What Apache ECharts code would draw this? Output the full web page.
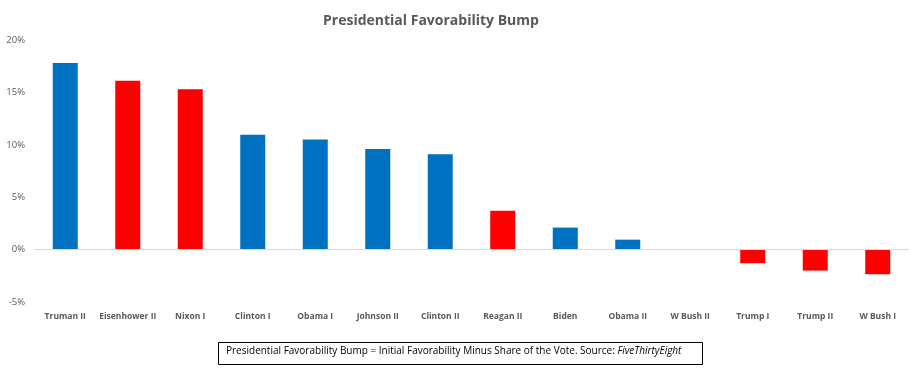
<!DOCTYPE html>
<html><head><meta charset="utf-8">
<script src="https://cdn.jsdelivr.net/npm/echarts@6/dist/echarts.min.js"></script>
<style>html,body{margin:0;padding:0;background:#fff}#c{width:910px;height:373px}</style>
</head><body><div id="c"></div>
<script>
const categories = ["Truman II","Eisenhower II","Nixon I","Clinton I","Obama I","Johnson II","Clinton II","Reagan II","Biden","Obama II","W Bush II","Trump I","Trump II","W Bush I"];
const bumpValues = [17.8,16.1,15.3,10.95,10.5,9.6,9.1,3.7,2.1,0.95,0,-1.3,-2.0,-2.35];
const party = ["D","R","R","D","D","D","D","R","D","D","R","R","R","R"];
const yTicks = [-5,0,5,10,15,20];
const titleText = "Presidential Favorability Bump";
const noteText = "Presidential Favorability Bump = Initial Favorability Minus Share of the Vote. Source: ";
const noteSource = "FiveThirtyEight";

const colors = {D:"#0070C0", R:"#FF0000"};
const font = "'Open Sans',sans-serif";
const chart = echarts.init(document.getElementById('c'));
chart.setOption({
  animation:false,
  title:{text:titleText,left:318,top:9,textStyle:{fontFamily:font,fontSize:14,fontWeight:'bold',color:'#595959'}},
  grid:{left:34,right:1,top:40,bottom:71},
  xAxis:{type:'category',data:categories,axisLine:{show:false},axisTick:{show:false},
    axisLabel:{fontFamily:font,fontSize:8.5,fontWeight:'bold',color:'#595959',margin:10,interval:0}},
  yAxis:{type:'value',min:yTicks[0],max:yTicks[yTicks.length-1],interval:5,
    axisLine:{show:false},axisTick:{show:false},splitLine:{show:false},
    axisLabel:{formatter:'{value}%',fontFamily:font,fontSize:9.5,color:'#595959',margin:9}},
  series:[{type:'bar',barWidth:'40%',
    data:bumpValues.map((v,i)=>({value:v,itemStyle:{color:colors[party[i]]}})),
    markLine:{silent:true,symbol:'none',label:{show:false},lineStyle:{color:'#d9d9d9',type:'solid',width:1},data:[{yAxis:0}]}
  }],
  graphic:[
    {type:'rect',left:218,top:342,shape:{width:484,height:22},style:{fill:'#fff',stroke:'#000',lineWidth:1}},
    {type:'text',left:226,top:346,style:{
      text:'{n|'+noteText+'}{i|'+noteSource+'}',
      rich:{n:{fontFamily:font,fontSize:10,fill:'#000'},i:{fontFamily:font,fontSize:10,fontStyle:'italic',fill:'#000'}}
    }}
  ]
});
</script></body></html>
